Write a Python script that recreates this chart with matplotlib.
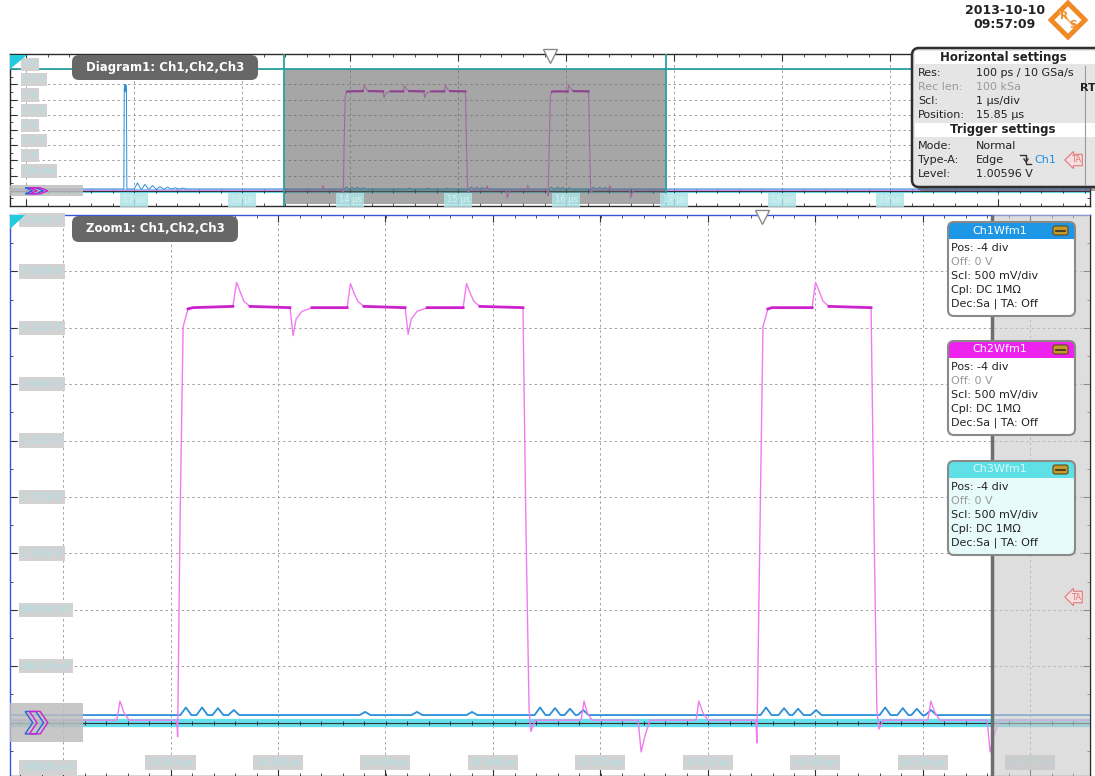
import matplotlib
matplotlib.use("Agg")
import matplotlib.pyplot as plt
from matplotlib.patches import Rectangle, FancyBboxPatch, Polygon
from matplotlib.transforms import blended_transform_factory
from matplotlib.ticker import FixedLocator, AutoMinorLocator
import numpy as np

plt.rcParams['font.family'] = ['DejaVu Sans']

W, H = 1095, 776

# ---- waveform data: time in us, level in V ----
# Ch2 (magenta)
ch2_t = [10.85, 13.737, 13.747, 13.760, 13.777,
         13.933, 13.936, 13.944, 13.954, 13.970, 13.985,
         14.117, 14.129, 14.140, 14.153, 14.173,
         14.304, 14.314, 14.324, 14.343, 14.376,
         14.491, 14.502, 14.513, 14.526, 14.546,
         14.681, 14.691, 14.701, 14.720, 14.753,
         14.871, 14.882, 14.893, 14.906, 14.926,
         15.067, 15.077, 15.087, 15.093, 15.106,
         15.257, 15.267, 15.277, 15.293,
         15.444, 15.454, 15.467, 15.483,
         15.634, 15.643, 15.656, 15.673,
         15.830, 15.833, 15.843, 15.853, 15.869, 15.883,
         16.014, 16.025, 16.037, 16.050, 16.069,
         16.207, 16.217, 16.226, 16.233, 16.246,
         16.393, 16.403, 16.416, 16.432,
         16.587, 16.597, 16.610, 16.626, 20.85]
ch2_v = [0.02, 0.02, 0.17, 0.08, 0.02,
         0.02, -0.11, 1.60, 3.12, 3.26, 3.27,
         3.28, 3.47, 3.40, 3.32, 3.28,
         3.27, 3.05, 3.18, 3.24, 3.27,
         3.27, 3.46, 3.39, 3.32, 3.28,
         3.27, 3.06, 3.18, 3.24, 3.27,
         3.27, 3.46, 3.39, 3.32, 3.28,
         3.27, 1.50, 0.10, -0.07, 0.02,
         0.02, 0.17, 0.08, 0.02,
         0.02, -0.23, -0.10, 0.02,
         0.02, 0.17, 0.08, 0.02,
         0.02, -0.16, 1.50, 3.12, 3.26, 3.27,
         3.27, 3.47, 3.40, 3.32, 3.28,
         3.27, 1.50, 0.10, -0.05, 0.02,
         0.02, 0.17, 0.08, 0.02,
         0.02, -0.23, -0.10, 0.02, 0.02]

# Ch1 (blue): narrow pulse, ringing after it, small bumps on the baseline
ch1_base = 0.06
ch1_pulse_t = [11.904, 11.908, 11.913, 11.918, 11.923, 11.928, 11.932]
ch1_pulse_v = [0.06, 3.35, 3.49, 3.25, 3.49, 3.35, 0.06]
ch1_ring_t = [12.03, 12.10, 12.17, 12.24, 12.31, 12.38, 12.45]
ch1_ring_v = [0.26, 0.21, 0.17, 0.14, 0.12, 0.10, 0.09]
ch1_bump_t = [13.963, 14.016, 14.068, 14.120, 14.55, 14.72, 14.90,
              15.123, 15.172, 15.221, 15.264, 15.863, 15.922, 15.968, 16.027,
              16.253, 16.311, 16.357, 16.403]
ch1_bump_v = [0.12, 0.12, 0.115, 0.10, 0.085, 0.085, 0.085,
              0.12, 0.115, 0.11, 0.10, 0.12, 0.115, 0.11, 0.10,
              0.12, 0.115, 0.11, 0.10]

# Ch3 (cyan) flat level
ch3_level = 0.0

# ---- scales ----
diag_xlim = (10.85, 20.85)
diag_ylim = (-0.5, 4.5)
diag_xticks = [11, 12, 13, 14, 15, 16, 17, 18, 19, 20]
diag_xlabels = ["11 µs", "12 µs", "13 µs", "14 µs", "15 µs", "16 µs", "17 µs", "18 µs", "19 µs", "20 µs"]
diag_yticks = [0.5, 1.0, 1.5, 2.0, 2.5, 3.0, 3.5, 4.0]
diag_ylabels = ["500 mV", "1 V", "1.5 V", "2 V", "2.5 V", "3 V", "3.5 V", "4 V"]

zoom_xlim = (13.387, 16.924)
zoom_ylim = (-0.42, 4.0)
zoom_xticks = [13.561, 13.913, 14.265, 14.616, 14.968, 15.320, 15.672, 16.024, 16.376, 16.727]
zoom_yticks = [0.4444, 0.8889, 1.3333, 1.7778, 2.2222, 2.6667, 3.1111, 3.5556]
zoom_ylabels = ["444.44 mV", "888.89 mV", "1.3333 V", "1.7778 V", "2.2222 V",
                "2.6667 V", "3.1111 V", "3.5556 V"]
trigger_pos = 15.85
record_end = 16.603


def frect(x0, y0, x1, y1):
    return [x0 / W, 1 - y1 / H, (x1 - x0) / W, (y1 - y0) / H]


def ch1_trace(t0, t1):
    pts = [(t0, ch1_base), (t1, ch1_base)]
    for c, p in zip(ch1_ring_t, ch1_ring_v):
        pts += [(c - 0.03, ch1_base), (c, p), (c + 0.03, ch1_base)]
    for c, p in zip(ch1_bump_t, ch1_bump_v):
        pts += [(c - 0.018, ch1_base), (c, p), (c + 0.018, ch1_base)]
    pts += list(zip(ch1_pulse_t, ch1_pulse_v))
    pts.sort()
    return [p[0] for p in pts], [p[1] for p in pts]


fig = plt.figure(figsize=(W / 100, H / 100), dpi=100)
fig.patch.set_facecolor('white')


def setup_panel(ax, xlim, ylim, xticks, yticks, xminor):
    ax.set_xlim(*xlim)
    ax.set_ylim(*ylim)
    ax.xaxis.set_major_locator(FixedLocator(xticks))
    ax.yaxis.set_major_locator(FixedLocator(yticks))
    ax.xaxis.set_minor_locator(AutoMinorLocator(xminor))
    ax.yaxis.set_minor_locator(AutoMinorLocator(2))
    ax.tick_params(which='both', direction='in', top=True, right=True,
                   labelbottom=False, labelleft=False, color='#333333')
    ax.tick_params(which='major', length=5, width=0.8)
    ax.tick_params(which='minor', length=2.5, width=0.6)
    ax.grid(True, which='major', ls=(0, (2.5, 3)), color='#a2a2a2', lw=0.7, zorder=0.5)
    ax.set_axisbelow(True)
    for s in ax.spines.values():
        s.set_color('#2a2a2a')
        s.set_linewidth(1)
    # baseline (0 V) with small ticks
    ax.axhline(0, color='#333333', lw=0.8, zorder=2.2)
    step = (xticks[1] - xticks[0]) / 5
    mt = np.arange(xticks[0] - 5 * step, xlim[1], step)
    ax.plot(mt, np.zeros_like(mt), ls='none', marker='|', ms=3.5, mew=0.7,
            color='#333333', zorder=2.3)


def draw_traces(ax, xlim, cyan_lw, blue_lw, pink_lw, hi_lw):
    ax.plot(xlim, [ch3_level, ch3_level], color='#66dfec', lw=cyan_lw,
            solid_capstyle='butt', zorder=2)
    t1, v1 = ch1_trace(*xlim)
    ax.plot(t1, v1, color='#2a8ed8', lw=blue_lw, zorder=2.5)
    v2 = np.array(ch2_v)
    ax.plot(ch2_t, v2, color='#f07af0', lw=pink_lw, zorder=3)
    hi = np.where((v2 >= 3.255) & (v2 <= 3.285), v2, np.nan)
    ax.plot(ch2_t, hi, color='#cc22cc', lw=hi_lw, zorder=3.1)


label_style = dict(fontsize=6.5, color='#a6e3ea',
                   bbox=dict(boxstyle='square,pad=0.3', fc='#d2d2d2', ec='none'))

# ---------------- Diagram1 ----------------
ax1 = fig.add_axes(frect(10, 54, 1090, 206))
setup_panel(ax1, diag_xlim, diag_ylim, diag_xticks, diag_yticks, 5)
draw_traces(ax1, diag_xlim, 3, 0.7, 0.8, 1.6)
ax1.add_patch(Rectangle((zoom_xlim[0], zoom_ylim[0]), zoom_xlim[1] - zoom_xlim[0],
                        zoom_ylim[1] - zoom_ylim[0], fc='#606060', alpha=0.56,
                        ec='none', zorder=4))
ax1.axvline(zoom_xlim[0], color='#2aa0a0', lw=1.3, zorder=4.5)
ax1.axvline(zoom_xlim[1], color='#2aa0a0', lw=1.3, zorder=4.5)
ax1.axhline(zoom_ylim[1], color='#2aa0a0', lw=1.3, zorder=4.5)
bt1 = blended_transform_factory(ax1.transAxes, ax1.transData)
for v, lab in zip(diag_yticks, diag_ylabels):
    ax1.text(0.012, v + 0.15, lab, transform=bt1, ha='left', va='center', zorder=5,
             fontsize=6, color='#a6e3ea',
             bbox=dict(boxstyle='square,pad=0.25', fc='#d2d2d2', ec='none'))
bx1 = blended_transform_factory(ax1.transData, ax1.transAxes)
for t, lab in zip(diag_xticks[1:9], diag_xlabels[1:9]):
    ax1.text(t, 0.04, lab, transform=bx1, ha='center', va='center', zorder=5,
             fontsize=6, color='#d6f4f4',
             bbox=dict(boxstyle='square,pad=0.3', fc='#aee3e6', ec='none', alpha=0.85))
ax1.plot([trigger_pos], [0.985], transform=bx1, marker='v', ms=10, mfc='white',
         mec='#8a8a8a', mew=1, clip_on=False, zorder=6)

# ---------------- Zoom1 ----------------
ax2 = fig.add_axes(frect(10, 215, 1090, 776))
setup_panel(ax2, zoom_xlim, zoom_ylim, zoom_xticks, zoom_yticks, 5)
for s in ('left', 'top'):
    ax2.spines[s].set_color('#3a55d8')
draw_traces(ax2, zoom_xlim, 6, 1.3, 1.0, 2.0)
bt2 = blended_transform_factory(ax2.transAxes, ax2.transData)
ax2.text(0.0105, 3.96, "4.0000 V", transform=bt2, ha='left', va='center', zorder=5, **label_style)
for v, lab in zip(zoom_yticks, zoom_ylabels):
    ax2.text(0.0105, v, lab, transform=bt2, ha='left', va='center', zorder=5, **label_style)
ax2.text(0.0105, 0.015, "-388.89 mV", transform=ax2.transAxes, ha='left', va='center',
         zorder=5, **label_style)
bx2 = blended_transform_factory(ax2.transData, ax2.transAxes)
for t in zoom_xticks[1:]:
    ax2.text(t, 0.024, f"{t:.3f} µs", transform=bx2, ha='center', va='center', zorder=5,
             **label_style)
ax2.axvspan(record_end, zoom_xlim[1], color='#c8c8c8', alpha=0.6, zorder=6, lw=0)
ax2.axvline(record_end, color='#6e6e6e', lw=2.5, zorder=6.5)
ax2.plot([trigger_pos], [0.997], transform=bx2, marker='v', ms=10, mfc='white',
         mec='#8a8a8a', mew=1, clip_on=False, zorder=6)

# ground markers on the left of each baseline
for ax in (ax1, ax2):
    btr = blended_transform_factory(ax.transAxes, ax.transData)
    hgt = (ax.get_ylim()[1] - ax.get_ylim()[0])
    ax.add_patch(Rectangle((0.0, -0.035 * hgt), 0.068, 0.07 * hgt, transform=btr,
                           fc='#bdbdbd', ec='none', alpha=0.85, zorder=5))
    for dx, col in ((0.0, '#3060e0'), (0.004, '#d020d0')):
        ax.add_patch(Polygon([(0.014 + dx, 0.02 * hgt), (0.024 + dx, 0.02 * hgt),
                              (0.031 + dx, 0), (0.024 + dx, -0.02 * hgt),
                              (0.014 + dx, -0.02 * hgt), (0.021 + dx, 0)],
                             closed=True, transform=btr, fc='none', ec=col, lw=1, zorder=5.5))

# ---------------- overlay (pixel coordinates) ----------------
ov = fig.add_axes([0, 0, 1, 1])
ov.set_xlim(0, W)
ov.set_ylim(H, 0)
ov.axis('off')
ov.patch.set_alpha(0)
ov.set_zorder(10)

# panel corner triangles
ov.add_patch(Polygon([(10, 55), (27, 55), (10, 69)], fc='#20ccdd', ec='none'))
ov.add_patch(Polygon([(10, 215), (25, 215), (10, 229)], fc='#20ccdd', ec='none'))

# panel title tabs
ov.add_patch(FancyBboxPatch((72, 55), 186, 25, boxstyle='round,pad=0,rounding_size=7',
                            fc='#676767', ec='none'))
ov.text(165, 68, "Diagram1: Ch1,Ch2,Ch3", color='white', fontsize=8.5, fontweight='bold',
        ha='center', va='center')
ov.add_patch(FancyBboxPatch((72, 216), 166, 26, boxstyle='round,pad=0,rounding_size=7',
                            fc='#676767', ec='none'))
ov.text(155, 229, "Zoom1: Ch1,Ch2,Ch3", color='white', fontsize=8.5, fontweight='bold',
        ha='center', va='center')

# date / time and logo
ov.text(1005, 11, "2013-10-10", fontsize=9, fontweight='bold', ha='center', va='center', color='#222')
ov.text(1005, 25, "09:57:09", fontsize=9, fontweight='bold', ha='center', va='center', color='#222')
ov.add_patch(Polygon([(1068, 3), (1085, 20), (1068, 37), (1051, 20)], fc='white',
                     ec='#f08a24', lw=3.5, joinstyle='miter'))
ov.plot([1060, 1076], [12, 28], color='#f6b070', lw=1.2)
ov.text(1064, 16, "R", fontsize=7.5, fontweight='bold', color='#f08a24', ha='center', va='center')
ov.text(1073, 25, "S", fontsize=7.5, fontweight='bold', color='#f08a24', ha='center', va='center')

# horizontal / trigger settings box
ov.add_patch(FancyBboxPatch((916, 52), 190, 139, boxstyle='round,pad=0,rounding_size=7',
                            fc='#444444', ec='none', alpha=0.5))
ov.add_patch(FancyBboxPatch((912, 48), 190, 139, boxstyle='round,pad=0,rounding_size=7',
                            fc='#e5e5e5', ec='#2e2e2e', lw=1.8))
ov.add_patch(Rectangle((915, 51), 185, 13, fc='white', ec='none'))
ov.add_patch(Rectangle((915, 123), 185, 14, fc='white', ec='none'))
ov.plot([1085, 1085], [66, 185], color='#9a9a9a', lw=0.8)
ov.text(1003, 58, "Horizontal settings", fontsize=8.5, fontweight='bold', ha='center', va='center', color='#222')
ov.text(1003, 130, "Trigger settings", fontsize=8.5, fontweight='bold', ha='center', va='center', color='#222')
rows = [(73, "Res:", "100 ps / 10 GSa/s", '#222'),
        (87, "Rec len:", "100 kSa", '#9a9a9a'),
        (101, "Scl:", "1 µs/div", '#222'),
        (115, "Position:", "15.85 µs", '#222'),
        (146, "Mode:", "Normal", '#222'),
        (160, "Type-A:", "Edge", '#222'),
        (174, "Level:", "1.00596 V", '#222')]
for y, k, v, c in rows:
    ov.text(918, y, k, fontsize=8, ha='left', va='center', color=c)
    ov.text(976, y, v, fontsize=8, ha='left', va='center', color=c)
ov.plot([1020, 1026, 1026, 1031], [155, 155, 164, 164], color='#333', lw=1)
ov.plot([1028, 1026, 1024], [159, 162, 159], color='#333', lw=1)
ov.text(1034, 160, "Ch1", fontsize=8, ha='left', va='center', color='#1e90e6')
ov.text(1080, 88, "RT", fontsize=8, fontweight='bold', ha='left', va='center', color='#222')

# TA tags
for y in (160, 597):
    ov.text(1076, y, "TA", fontsize=6, ha='center', va='center', color='#e07a7a',
            bbox=dict(boxstyle='larrow,pad=0.15', fc='#f6dede', ec='#e07a7a', lw=0.8))


# channel info boxes
def ch_box(y0, title, head, body, title_col):
    x0, w, h, hh = 948, 127, 94, 17
    ov.add_patch(FancyBboxPatch((x0, y0), w, h, boxstyle='round,pad=0,rounding_size=6',
                                fc=body, ec='none'))
    ov.add_patch(FancyBboxPatch((x0, y0), w, hh, boxstyle='round,pad=0,rounding_size=6',
                                fc=head, ec='none'))
    ov.add_patch(Rectangle((x0, y0 + 9), w, hh - 9, fc=head, ec='none'))
    ov.add_patch(FancyBboxPatch((x0, y0), w, h, boxstyle='round,pad=0,rounding_size=6',
                                fc='none', ec='#8a8a8a', lw=1.5))
    ov.text(1000, y0 + 8.5, title, fontsize=8, ha='center', va='center', color=title_col)
    ov.add_patch(FancyBboxPatch((1053, y0 + 4), 15, 9, boxstyle='round,pad=0,rounding_size=2',
                                fc='#c49a2c', ec='#5a4a20', lw=0.8))
    ov.plot([1056, 1065], [y0 + 8.5, y0 + 8.5], color='#3a3020', lw=1.2)
    lines = [("Pos: -4 div", '#222'), ("Off: 0 V", '#9a9a9a'), ("Scl: 500 mV/div", '#222'),
             ("Cpl: DC 1MΩ", '#222'), ("Dec:Sa | TA: Off", '#222')]
    for i, (s, c) in enumerate(lines):
        ov.text(951, y0 + 26 + 14 * i, s, fontsize=8, ha='left', va='center', color=c)


ch_box(222, "Ch1Wfm1", '#1e96e6', 'white', 'white')
ch_box(341, "Ch2Wfm1", '#ee22ee', 'white', 'white')
ch_box(461, "Ch3Wfm1", '#5fe0e6', '#e8fbfb', '#d8fafa')

fig.savefig("out.png", dpi=100)
